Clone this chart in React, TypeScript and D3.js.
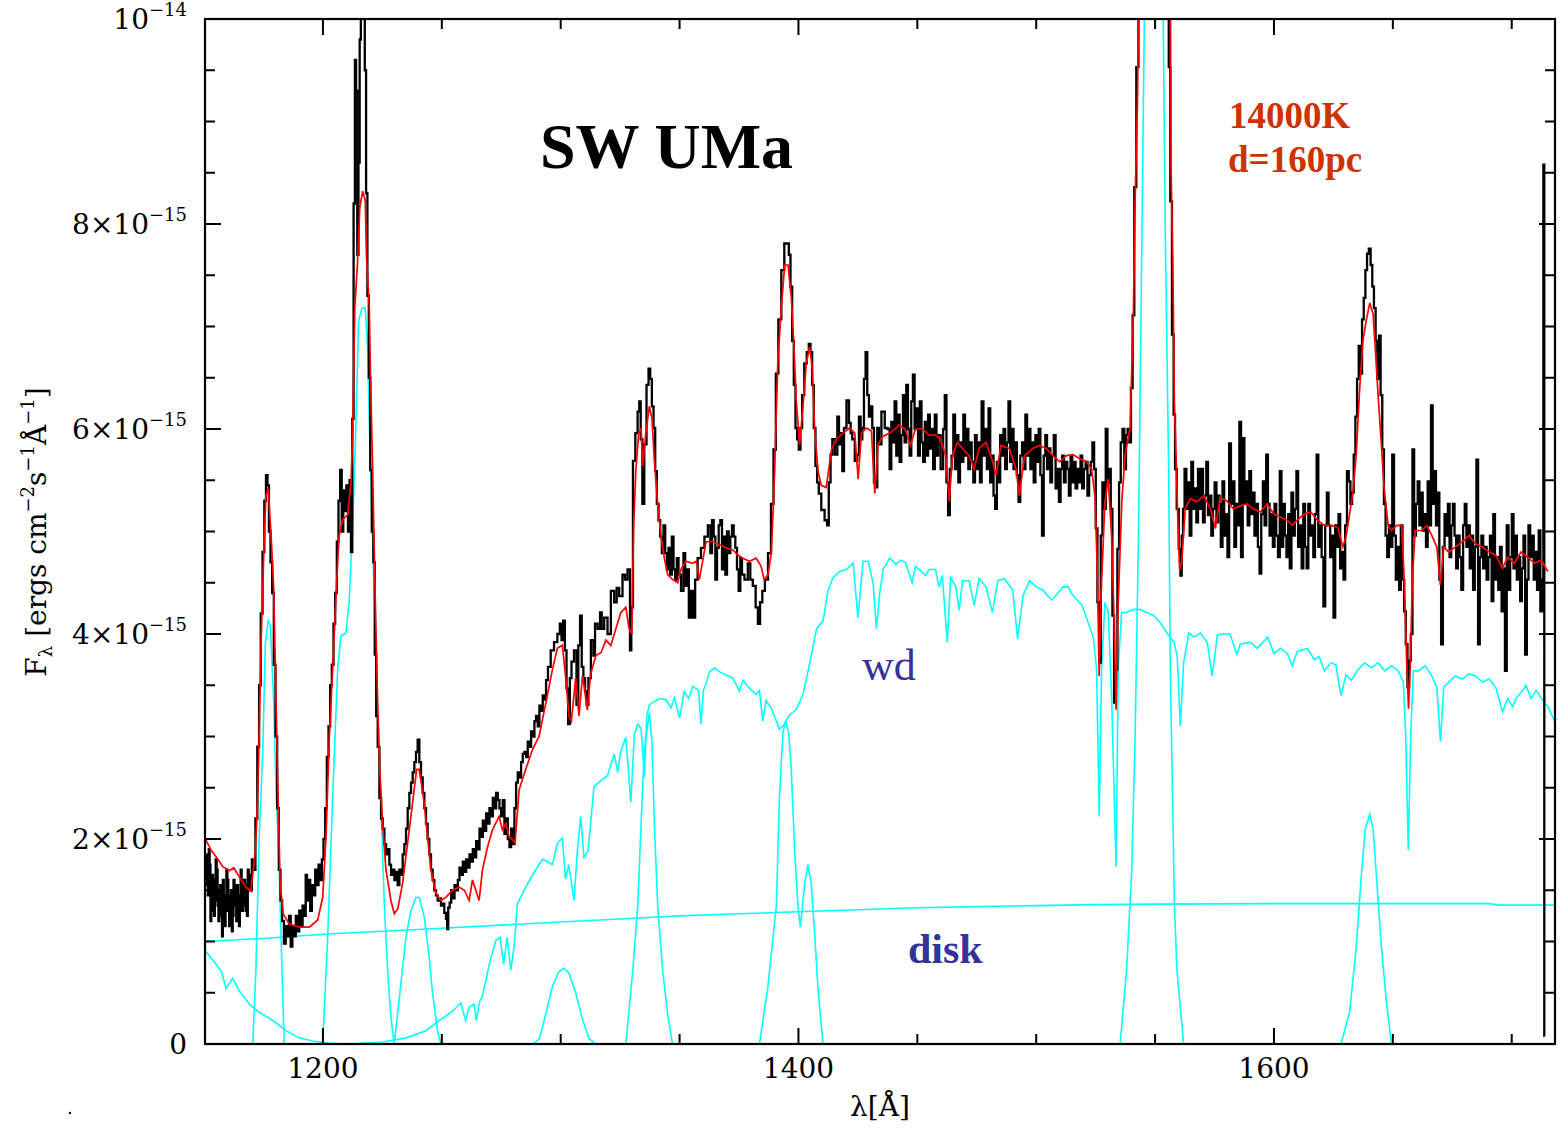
import React from 'react';
import * as d3 from 'd3';

const W = 1562;
const H = 1128;
const FRAME = { left: 205, right: 1555, top: 19, bottom: 1044 };
const LAMBDA_DOMAIN: [number, number] = [1150.4, 1718.2];
const FLUX_DOMAIN: [number, number] = [0, 10]; // units of 1e-15

// observed spectrum (black)  [lambda (A), flux (1e-15 erg/cm2/s/A)]
const observed: [number, number][] = [
  [1151.0,1.85],[1151.4,1.55],[1151.8,1.45],[1152.2,1.9],[1152.5,1.75],[1152.9,1.2],[1153.2,1.3],[1153.6,1.65],[1154.0,1.6],[1154.4,1.25],[1154.7,1.4],[1155.1,1.8],[1155.5,1.7],[1155.9,1.35],[1156.2,1.2],[1156.6,1.5],
  [1157.0,1.55],[1157.4,1.25],[1157.7,1.05],[1158.1,1.6],[1158.5,1.45],[1158.9,1.15],[1159.2,1.3],[1159.6,1.7],[1160.0,1.6],[1160.4,1.3],[1160.7,1.15],[1161.1,1.45],[1161.5,1.5],[1161.9,1.1],[1162.2,1.25],[1162.6,1.6],
  [1163.0,1.55],[1163.4,1.35],[1163.7,1.2],[1164.1,1.55],[1164.5,1.45],[1164.9,1.15],[1165.2,1.3],[1165.6,1.7],[1166.0,1.6],[1166.4,1.3],[1166.7,1.35],[1167.1,1.6],[1167.5,1.55],[1167.9,1.3],[1168.2,1.25],[1168.6,1.7],
  [1169.0,1.65],[1169.7,1.5],[1170.5,1.8],[1171.2,1.7],[1172.0,2.2],[1172.8,2.9],[1173.5,3.5],[1174.2,4.2],
  [1175.0,4.8],[1175.7,5.3],[1176.4,5.55],[1177.0,5.45],[1177.6,5.0],[1178.3,4.7],[1179.0,4.4],[1179.7,3.7],
  [1180.4,3.0],[1181.1,2.3],[1181.8,1.7],[1182.5,1.4],[1183.2,1.2],[1184.0,0.98],[1184.7,1.15],[1185.4,1.05],
  [1186.1,1.25],[1186.8,0.95],[1187.5,1.15],[1188.2,1.05],[1189.0,1.25],[1189.7,1.1],[1190.4,1.3],[1191.1,1.15],
  [1191.8,1.35],[1192.5,1.25],[1193.0,1.65],[1193.6,1.4],[1194.3,1.6],[1195.0,1.3],[1195.7,1.55],[1196.4,1.45],
  [1197.1,1.7],[1197.8,1.55],[1198.5,1.75],[1199.2,1.6],[1199.9,1.8],[1200.6,2.0],[1201.3,2.3],[1202.0,2.8],
  [1202.7,3.1],[1203.4,3.5],[1204.1,3.7],[1204.8,4.1],[1205.5,4.4],[1206.2,4.9],[1206.9,5.3],[1207.6,5.6],
  [1208.2,5.0],[1208.9,5.4],[1209.5,5.2],[1210.2,5.45],[1210.9,5.0],[1211.5,5.5],[1212.1,4.8],[1212.6,6.1],
  [1213.2,8.2],[1213.7,9.6],[1214.2,9.3],[1214.7,7.7],[1215.2,8.6],[1215.7,9.8],[1216.2,10.6],[1216.8,10.6],
  [1217.3,10.6],[1217.9,9.5],[1218.4,8.3],[1219.0,7.3],[1219.6,6.5],[1220.2,5.6],[1220.9,5.0],[1221.5,4.7],
  [1222.1,3.8],[1222.7,3.2],[1223.4,2.9],[1224.1,2.4],[1224.8,2.2],[1225.5,2.1],[1226.2,1.95],[1226.9,1.85],
  [1227.6,1.9],[1228.3,1.75],[1229.0,1.65],[1229.7,1.7],[1230.4,1.6],[1231.1,1.68],[1231.8,1.55],[1232.5,1.7],
  [1233.2,1.65],[1233.9,1.85],[1234.6,1.95],[1235.3,2.1],[1236.0,2.3],[1236.7,2.45],[1237.4,2.55],[1238.1,2.65],
  [1238.8,2.75],[1239.5,2.85],[1240.2,2.97],[1240.9,2.75],[1241.6,2.6],[1242.3,2.45],[1243.0,2.3],[1243.7,2.15],
  [1244.4,2.0],[1245.1,1.85],[1245.8,1.7],[1246.5,1.6],[1247.2,1.5],[1247.9,1.45],[1248.6,1.4],[1249.3,1.42],
  [1250.0,1.35],[1250.7,1.37],[1251.4,1.28],[1252.1,1.22],[1252.4,1.12],[1253.0,1.33],[1253.6,1.38],[1254.3,1.5],
  [1255.0,1.42],[1255.7,1.55],[1256.4,1.5],[1257.1,1.6],[1257.8,1.72],[1258.5,1.65],[1259.2,1.78],[1259.9,1.68],
  [1260.6,1.8],[1261.3,1.72],[1262.0,1.85],[1262.7,1.78],[1263.4,1.9],[1264.1,1.82],[1264.8,1.98],[1265.5,1.9],
  [1266.2,2.1],[1266.9,2.02],[1267.6,2.18],[1268.3,2.08],[1269.0,2.25],[1269.7,2.15],[1270.4,2.3],[1271.1,2.22],
  [1271.8,2.4],[1272.5,2.3],[1273.2,2.45],[1273.9,2.38],[1274.6,2.3],[1275.3,2.22],[1276.0,2.38],[1276.7,2.05],
  [1277.4,2.2],[1278.1,2.0],[1278.8,1.92],[1279.5,2.1],[1280.2,1.95],[1280.9,2.3],[1281.6,2.55],[1282.3,2.65],
  [1283.0,2.6],[1283.7,2.75],[1284.4,2.83],[1285.1,2.85],[1285.8,2.8],[1286.5,2.95],[1287.2,2.9],[1287.9,3.05],
  [1288.6,3.0],[1289.3,3.15],[1290.0,3.2],[1290.7,3.1],[1291.4,3.3],[1292.1,3.25],[1292.8,3.4],[1293.5,3.36],
  [1294.2,3.55],[1295.1,3.68],[1296.5,3.84],[1297.9,3.92],[1299.3,4.0],[1300.0,4.1],[1300.7,3.94],[1301.4,4.13],
  [1302.1,3.84],[1302.8,3.47],[1303.5,3.12],[1304.2,3.57],[1304.9,3.73],[1306.3,3.84],[1307.0,3.31],[1307.8,3.89],
  [1308.5,4.18],[1309.2,3.68],[1309.9,3.57],[1310.6,3.44],[1311.3,3.31],[1312.0,3.57],[1313.4,3.94],[1314.1,3.79],
  [1314.8,4.1],[1316.2,4.05],[1316.9,4.21],[1317.6,4.05],[1319.0,4.16],[1320.4,4.0],[1321.8,4.42],[1323.2,4.31],
  [1323.9,4.45],[1325.3,4.37],[1326.7,4.58],[1327.4,4.53],[1328.8,4.63],[1329.5,3.84],[1329.9,4.26],[1330.9,5.69],
  [1331.9,5.96],[1332.8,6.17],[1333.3,6.27],[1334.0,5.9],[1334.7,5.27],[1335.6,5.85],[1336.6,6.43],[1337.3,6.59],
  [1338.0,6.49],[1338.7,6.22],[1339.4,6.01],[1340.1,5.59],[1340.8,5.27],[1341.5,5.11],[1342.2,4.95],[1342.9,4.79],
  [1343.6,5.06],[1344.3,4.79],[1345.0,4.63],[1345.7,4.84],[1346.4,4.58],[1347.1,4.95],[1347.8,4.63],[1348.5,4.53],
  [1349.2,4.74],[1349.9,4.58],[1351.3,4.42],[1352.0,4.79],[1352.7,4.47],[1353.4,4.63],[1354.4,4.16],[1355.3,4.42],
  [1356.2,4.16],[1356.9,4.53],[1358.3,4.74],[1359.7,4.84],[1361.2,4.95],[1362.6,5.06],[1363.3,4.79],[1364.0,5.11],
  [1364.7,4.95],[1365.4,4.53],[1366.1,4.84],[1366.8,5.06],[1367.5,5.11],[1368.2,4.63],[1368.9,4.95],[1369.6,4.58],
  [1370.3,5.0],[1371.0,4.79],[1371.7,4.95],[1372.4,5.06],[1373.1,4.95],[1373.8,4.84],[1374.5,4.63],[1375.2,4.42],
  [1375.9,4.74],[1376.6,4.58],[1378.0,4.53],[1379.4,4.69],[1380.1,4.53],[1381.5,4.47],[1382.5,4.26],[1383.4,4.1],
  [1384.3,4.31],[1385.3,4.42],[1386.5,4.53],[1387.9,4.79],[1389.0,5.27],[1390.0,5.8],[1391.0,6.54],[1392.1,7.07],
  [1393.5,7.55],[1394.6,7.81],[1395.6,7.81],[1396.3,7.7],[1397.0,7.39],[1397.7,6.86],[1398.4,6.43],[1399.1,6.01],
  [1399.8,5.9],[1400.5,5.8],[1401.2,6.01],[1401.9,6.33],[1403.0,6.64],[1404.0,6.75],[1404.7,6.83],[1405.4,6.75],
  [1406.1,6.43],[1406.8,6.01],[1407.5,5.64],[1408.2,5.48],[1408.9,5.37],[1410.3,5.21],[1411.7,5.11],[1412.4,5.06],
  [1413.1,5.48],[1413.9,5.75],[1414.6,5.9],[1416.0,5.75],[1416.7,6.12],[1417.4,5.85],[1418.1,5.96],[1418.8,5.59],
  [1419.5,6.01],[1420.9,6.28],[1421.6,6.06],[1422.3,5.96],[1423.0,5.9],[1424.4,5.69],[1425.1,5.75],[1425.8,6.12],
  [1426.5,5.9],[1427.2,6.01],[1427.9,6.49],[1428.6,6.75],[1429.3,6.33],[1430.0,6.12],[1430.7,6.22],[1431.4,6.01],
  [1432.1,5.48],[1432.8,5.43],[1433.5,6.01],[1434.2,5.85],[1435.6,6.17],[1437.0,6.01],[1438.0,6.0],[1438.7,5.61],
  [1439.4,6.07],[1440.1,5.87],[1440.8,6.27],[1441.5,5.74],[1442.2,6.14],[1442.9,5.68],[1443.6,5.94],[1444.3,6.33],
  [1445.0,5.87],[1445.7,6.43],[1446.4,6.0],[1447.1,5.74],[1447.8,6.27],[1448.5,6.53],[1449.2,6.0],[1449.9,6.2],
  [1450.7,5.74],[1451.4,6.27],[1452.1,5.87],[1452.8,5.68],[1453.5,6.07],[1454.2,5.74],[1454.9,6.14],[1455.6,5.81],
  [1456.3,6.0],[1457.0,5.61],[1457.7,6.14],[1458.4,5.74],[1459.1,5.94],[1460.5,5.61],[1461.2,6.0],[1461.9,6.33],
  [1462.6,5.48],[1463.3,5.16],[1464.0,5.61],[1464.8,5.74],[1465.5,6.14],[1466.2,5.61],[1466.9,5.94],[1467.6,5.48],
  [1468.3,5.87],[1469.0,5.68],[1469.7,6.14],[1470.4,5.74],[1471.1,6.0],[1471.8,5.61],[1472.5,5.87],[1473.2,5.68],
  [1473.9,5.48],[1474.6,5.94],[1475.3,5.61],[1476.0,5.87],[1476.7,5.48],[1477.4,6.27],[1478.2,5.74],[1478.9,6.0],
  [1479.6,5.61],[1480.3,6.2],[1481.0,5.48],[1481.7,5.74],[1482.4,5.35],[1483.1,5.22],[1483.8,5.68],[1484.5,5.48],
  [1485.2,5.94],[1485.9,5.74],[1486.6,6.0],[1487.3,5.61],[1488.0,5.87],[1488.7,6.27],[1489.4,5.68],[1490.1,6.0],
  [1490.8,5.61],[1491.5,5.87],[1492.2,5.55],[1492.9,5.29],[1493.7,5.74],[1494.4,5.87],[1495.1,5.61],[1495.8,6.14],
  [1496.5,5.74],[1497.2,6.0],[1497.9,5.61],[1498.6,5.87],[1499.3,5.48],[1500.0,5.94],[1500.7,5.68],[1501.4,6.0],
  [1502.1,5.55],[1502.8,4.96],[1503.5,5.74],[1504.2,5.94],[1504.9,5.61],[1505.6,5.81],[1506.3,5.48],[1507.0,5.74],
  [1507.8,5.94],[1508.5,5.42],[1509.2,5.61],[1509.9,5.29],[1510.6,5.61],[1511.3,5.74],[1512.0,5.48],[1512.7,5.68],
  [1513.4,5.61],[1514.1,5.35],[1514.8,5.74],[1515.5,5.48],[1516.2,5.68],[1516.9,5.42],[1517.6,5.61],[1518.3,5.48],
  [1519.0,5.74],[1519.7,5.42],[1520.4,5.61],[1521.2,5.68],[1521.9,5.35],[1522.6,5.55],[1523.3,5.68],[1524.0,5.87],
  [1524.7,5.61],[1525.4,5.03],[1526.1,4.31],[1526.8,3.72],[1527.5,4.96],[1528.2,5.48],[1528.9,5.22],[1529.6,6.0],
  [1530.3,5.48],[1531.0,5.61],[1531.7,5.22],[1532.4,4.18],[1533.1,3.33],[1533.8,3.65],[1534.5,4.83],[1535.2,5.48],
  [1535.9,5.87],[1536.7,6.0],[1537.4,5.61],[1538.1,5.94],[1538.8,6.0],[1539.5,5.87],[1540.2,6.4],[1540.9,7.11],
  [1541.6,8.36],[1542.6,9.53],[1543.4,10.6],[1546.0,12.0],[1550.0,12.0],[1554.0,12.0],[1555.4,10.6],[1556.1,9.53],
  [1556.7,8.22],[1557.5,6.92],[1558.1,6.14],[1558.7,5.61],[1559.5,5.22],[1560.4,4.83],[1560.9,4.57],[1561.5,4.96],
  [1562.0,5.22],[1562.8,5.61],[1563.5,5.22],[1564.2,5.48],[1564.9,4.96],[1565.6,5.68],[1566.3,5.22],[1567.0,5.42],
  [1567.7,5.09],[1568.4,5.61],[1569.1,5.22],[1569.8,5.61],[1570.5,5.09],[1571.2,5.35],[1571.9,5.68],[1572.6,5.16],
  [1573.3,5.35],[1574.0,4.96],[1574.7,5.22],[1575.4,5.48],[1576.2,5.09],[1576.9,5.35],[1577.3,5.27],[1578.0,4.85],
  [1578.7,5.49],[1579.4,4.96],[1580.1,5.17],[1580.8,4.75],[1581.5,5.86],[1582.3,5.27],[1583.0,5.49],[1583.7,4.85],
  [1584.4,5.27],[1585.1,5.06],[1585.8,6.07],[1586.5,4.75],[1587.2,5.91],[1587.9,5.27],[1588.6,5.49],[1589.3,5.06],
  [1590.0,5.59],[1590.7,5.17],[1591.4,5.38],[1592.2,4.96],[1592.9,5.27],[1593.6,4.85],[1594.3,4.59],[1595.0,5.17],
  [1595.7,5.49],[1596.4,5.06],[1597.1,5.75],[1597.8,5.27],[1598.5,4.96],[1599.2,5.17],[1599.9,4.85],[1600.6,5.27],
  [1601.3,4.96],[1602.1,4.75],[1602.8,5.59],[1603.5,4.85],[1604.2,5.27],[1604.9,4.96],[1605.6,4.75],[1606.3,5.17],
  [1607.0,4.64],[1607.7,5.38],[1608.4,4.96],[1609.1,5.22],[1609.8,5.59],[1610.5,4.85],[1611.3,5.06],[1612.0,4.64],
  [1612.7,5.27],[1613.4,4.85],[1614.1,4.64],[1614.8,5.27],[1615.5,4.96],[1616.2,5.06],[1616.9,4.75],[1617.6,5.17],
  [1618.3,5.75],[1619.0,4.85],[1619.7,5.06],[1620.4,4.75],[1621.2,4.27],[1621.9,5.06],[1622.6,5.38],[1623.3,5.06],
  [1624.0,4.75],[1624.7,4.96],[1625.4,4.16],[1626.1,5.06],[1626.8,4.85],[1627.5,5.17],[1628.2,4.64],[1628.9,4.8],
  [1629.6,4.53],[1630.3,5.06],[1631.1,5.59],[1631.8,5.49],[1632.5,5.27],[1633.2,5.38],[1633.9,5.75],[1634.6,6.12],
  [1635.3,6.49],[1636.0,6.81],[1636.7,6.54],[1637.4,7.07],[1638.1,7.28],[1638.8,7.55],[1639.5,7.71],[1640.3,7.76],
  [1641.0,7.6],[1641.7,7.39],[1642.4,7.18],[1643.1,6.86],[1643.8,6.49],[1644.5,6.91],[1645.2,6.33],[1645.9,5.8],
  [1646.6,5.27],[1647.3,4.96],[1648.0,4.75],[1648.7,5.06],[1649.4,4.85],[1650.1,5.75],[1650.9,4.96],[1651.6,4.53],
  [1652.3,4.85],[1653.0,4.43],[1653.7,5.06],[1654.4,4.53],[1655.1,4.22],[1655.8,3.9],[1656.5,3.48],[1657.2,3.74],
  [1657.9,4.0],[1658.6,5.8],[1659.3,4.96],[1660.1,5.27],[1660.8,5.49],[1661.5,5.06],[1662.2,5.38],[1662.9,5.01],
  [1663.6,5.17],[1664.3,4.85],[1665.0,5.49],[1665.7,5.06],[1666.4,6.23],[1667.1,5.27],[1667.8,5.59],[1668.5,5.06],
  [1669.2,5.38],[1669.9,4.53],[1670.7,3.9],[1671.4,4.85],[1672.1,5.17],[1672.8,4.96],[1673.5,5.27],[1674.2,4.75],
  [1674.9,5.06],[1675.6,5.27],[1676.3,4.96],[1677.0,4.64],[1677.7,4.96],[1678.4,4.75],[1679.2,4.43],[1679.9,5.06],
  [1680.6,5.27],[1681.3,4.85],[1682.0,5.06],[1682.7,4.64],[1683.4,4.96],[1684.1,4.43],[1684.8,4.85],[1685.5,5.7],
  [1686.2,3.9],[1686.9,4.75],[1687.6,4.96],[1688.4,4.64],[1689.1,4.85],[1689.8,4.53],[1690.5,4.75],[1691.2,4.96],
  [1691.9,4.32],[1692.6,5.17],[1693.3,4.53],[1694.0,4.75],[1694.7,4.43],[1695.4,4.85],[1696.1,4.22],[1696.8,4.64],
  [1697.5,3.64],[1698.3,5.06],[1699.0,4.43],[1699.7,4.75],[1700.4,5.17],[1701.1,4.64],[1701.8,4.96],[1702.5,4.53],
  [1703.2,4.75],[1703.9,4.32],[1704.6,4.64],[1705.3,4.96],[1706.0,3.8],[1706.7,4.53],[1707.4,5.06],[1708.1,4.75],
  [1708.9,4.96],[1709.6,4.53],[1710.3,4.8],[1711.0,4.43],[1711.7,5.01],[1712.4,4.22],[1713.1,4.53],[1713.5,8.58],
  [1713.9,0.08],
];

// best fit model (red)
const model: [number, number][] = [
  [1150.8,1.99],[1153,1.89],[1155,1.83],[1157.9,1.73],[1160.7,1.69],[1162.5,1.72],[1164.8,1.63],[1167.6,1.53],
  [1169.7,1.49],[1171.6,1.89],[1172.6,2.41],[1174.0,3.92],[1174.9,4.63],[1176.0,5.35],[1177.0,5.42],[1178.2,4.96],
  [1179.3,4.44],[1180.0,3.66],[1181.0,2.55],[1182.0,1.57],[1183.3,1.27],[1185.9,1.17],[1190.0,1.14],[1194.3,1.14],
  [1197.8,1.21],[1199.9,1.43],[1201.3,2.02],[1202.7,3.0],[1204.1,3.66],[1205.5,4.37],[1206.8,4.96],[1208.3,5.12],
  [1210.4,5.16],[1211.8,5.48],[1212.5,5.94],[1213.4,7.18],[1214.5,7.6],[1215.5,8.16],[1216.7,8.32],[1217.8,8.23],
  [1218.3,7.7],[1219.5,7.18],[1220.0,6.53],[1220.9,5.61],[1221.8,4.57],[1223.0,3.33],[1223.9,2.68],[1225.1,2.15],
  [1226.5,1.7],[1228.6,1.4],[1230.0,1.27],[1231.5,1.32],[1233.5,1.57],[1235.6,1.96],[1237.7,2.35],[1239.4,2.68],
  [1240.5,2.68],[1241.0,2.6],[1242.6,2.35],[1244.0,2.02],[1245.4,1.7],[1247.5,1.47],[1249.6,1.4],[1251.7,1.43],
  [1254.5,1.5],[1257.3,1.53],[1259.5,1.5],[1261.5,1.4],[1262.9,1.6],[1264.3,1.5],[1265.7,1.4],[1267.1,1.7],
  [1269.2,1.92],[1271.3,2.09],[1274.1,2.22],[1275.5,2.09],[1277.0,2.15],[1278.3,2.02],[1279.5,2.0],[1280.8,1.96],
  [1282.5,2.48],[1285.3,2.68],[1288.1,2.87],[1290.9,3.0],[1293.7,3.32],[1296.5,3.65],[1298.6,3.86],[1300.7,3.89],
  [1302.0,3.6],[1303.5,3.2],[1304.5,3.15],[1306.3,3.57],[1307.7,3.2],[1309.2,3.6],[1311.2,3.26],[1312.6,3.61],
  [1314.8,3.79],[1317.0,3.82],[1319.0,3.94],[1321.1,3.89],[1323.2,4.05],[1325.3,4.21],[1327.4,4.26],[1328.8,4.05],
  [1329.9,4.0],[1330.7,5.06],[1331.6,5.59],[1332.8,5.96],[1333.8,6.01],[1334.5,5.64],[1335.8,5.96],[1337.3,6.22],
  [1338.4,6.1],[1339.4,5.69],[1340.8,5.27],[1342.2,4.95],[1343.6,4.74],[1345.0,4.58],[1347.1,4.53],[1349.2,4.5],
  [1350.6,4.63],[1352.7,4.71],[1355.5,4.69],[1357.0,4.71],[1358.3,4.53],[1359.7,4.71],[1361.1,4.9],[1364.0,4.9],
  [1366.8,4.87],[1369.6,4.84],[1372.4,4.82],[1374.5,4.77],[1376.6,4.74],[1379.4,4.71],[1382.2,4.74],[1384.3,4.66],
  [1385.6,4.53],[1387.2,4.58],[1388.6,4.79],[1390.0,5.59],[1391.3,6.64],[1392.8,7.18],[1394.2,7.6],[1395.6,7.6],
  [1397.0,7.28],[1398.0,6.86],[1399.1,6.27],[1400.5,5.85],[1401.9,6.22],[1403.3,6.64],[1404.7,6.8],[1405.8,6.6],
  [1406.8,6.01],[1408.2,5.59],[1409.6,5.45],[1411.7,5.43],[1413.9,5.8],[1416.0,5.9],[1418.8,5.96],[1421.6,6.01],
  [1423.7,5.96],[1425.1,5.51],[1426.5,5.96],[1428.6,6.01],[1430.7,5.98],[1432.1,5.37],[1433.5,5.85],[1435.6,5.93],
  [1438.4,5.96],[1440.8,6.0],[1442.2,6.04],[1444.9,6.0],[1447.1,5.84],[1449.2,6.0],[1452.1,6.0],[1454.9,5.94],
  [1457.7,5.94],[1459.8,5.9],[1461.9,5.74],[1463.4,5.29],[1464.8,5.74],[1466.9,5.87],[1469.0,5.81],[1471.8,5.74],
  [1473.9,5.61],[1476.0,5.81],[1478.9,5.87],[1481.7,5.68],[1483.1,5.55],[1485.2,5.84],[1488.7,5.81],[1491.5,5.61],
  [1492.9,5.35],[1495.1,5.74],[1498.6,5.81],[1501.4,5.84],[1504.2,5.81],[1507.0,5.74],[1509.9,5.68],[1512.7,5.74],
  [1515.5,5.75],[1518.3,5.71],[1521.2,5.68],[1523.3,5.61],[1524.7,5.35],[1525.7,4.63],[1526.5,3.59],[1527.3,4.4],
  [1528.9,5.29],[1530.3,5.51],[1531.7,4.96],[1532.7,4.2],[1533.6,3.26],[1534.5,4.3],[1536.0,5.29],[1537.4,5.75],
  [1539.5,6.01],[1540.9,7.18],[1541.6,8.23],[1542.6,9.21],[1543.3,10.6],[1546.0,13.0],[1550.0,13.0],[1555.5,12.0],
  [1556.4,10.6],[1556.7,8.55],[1557.5,7.57],[1558.1,6.27],[1558.8,5.75],[1559.5,5.16],[1560.3,4.63],[1561.2,4.7],
  [1562.7,5.22],[1564.8,5.32],[1567.6,5.29],[1570.5,5.35],[1573.3,5.22],[1575.4,5.03],[1577.3,5.33],[1580.1,5.3],
  [1583.0,5.22],[1585.8,5.25],[1588.6,5.27],[1591.4,5.22],[1594.3,5.19],[1597.1,5.27],[1600.0,5.17],[1602.8,5.14],
  [1605.6,5.11],[1607.7,5.06],[1609.8,5.11],[1612.7,5.17],[1615.5,5.19],[1618.3,5.11],[1621.2,5.06],[1624.0,5.06],
  [1626.8,5.04],[1629.0,4.85],[1630.3,4.95],[1631.8,5.17],[1633.2,5.38],[1634.6,5.75],[1636.0,6.38],[1637.4,6.86],
  [1638.9,7.07],[1640.3,7.23],[1641.7,7.12],[1642.7,6.75],[1643.8,6.33],[1645.0,5.91],[1646.3,5.43],[1648.0,5.06],
  [1649.4,5.01],[1651.6,5.06],[1653.7,5.06],[1654.8,4.53],[1655.8,3.74],[1656.6,3.27],[1657.4,3.74],[1658.2,4.53],
  [1659.4,5.01],[1662.2,5.01],[1664.3,5.06],[1666.4,4.96],[1668.5,4.85],[1670.0,4.48],[1671.4,4.85],[1673.5,4.8],
  [1676.3,4.85],[1679.2,4.9],[1682.0,4.96],[1684.8,4.88],[1687.6,4.85],[1690.5,4.8],[1693.3,4.77],[1696.1,4.64],
  [1698.3,4.75],[1701.1,4.69],[1703.9,4.8],[1706.7,4.75],[1709.6,4.69],[1712.4,4.72],[1715.2,4.61],
];

// white dwarf component (cyan)
const whiteDwarf: [number, number][] = [
  [1150.5,0.91],[1155.0,0.78],[1157.5,0.7],[1159.2,0.54],[1162.0,0.64],[1164.8,0.52],[1169.0,0.39],[1173.2,0.31],
  [1178.9,0.23],[1184.5,0.13],[1190.0,0.06],[1195.7,0.03],[1202,0.01],[1210,0.0],[1218,0.01],[1225,0.02],
  [1235,0.06],[1243.3,0.13],[1249,0.23],[1254.5,0.32],[1258,0.4],[1260,0.23],[1261.5,0.36],[1263.6,0.39],
  [1264.5,0.23],[1266,0.42],[1267,0.46],[1270,0.78],[1272.7,1.01],[1274.5,1.04],[1276,0.78],[1277.5,1.04],
  [1279,0.72],[1280.4,0.95],[1281.8,1.37],[1285.3,1.53],[1289.5,1.7],[1292.3,1.8],[1294.5,1.78],[1296.5,1.75],
  [1298.6,1.96],[1300.7,2.01],[1302.0,1.61],[1303.4,1.75],[1305.6,1.4],[1307.0,1.88],[1308.4,2.22],[1309.8,1.82],
  [1311.5,1.88],[1314.0,2.51],[1317.0,2.57],[1319.7,2.62],[1322.5,2.83],[1324.0,2.65],[1325.3,2.86],[1327.4,2.99],
  [1329.5,2.36],[1331.0,3.02],[1332.4,3.12],[1333.8,3.08],[1335.2,2.6],[1336.2,3.2],[1337.3,3.31],[1338.7,3.33],
  [1341.5,3.37],[1344.3,3.36],[1346.4,3.28],[1347.8,3.38],[1350.0,3.18],[1352.0,3.44],[1353.8,3.37],[1355.5,3.49],
  [1358.0,3.45],[1359.0,3.12],[1360.0,3.45],[1361.2,3.52],[1362.6,3.63],[1364.7,3.67],[1366.8,3.63],[1369.6,3.6],
  [1372.4,3.57],[1375.2,3.44],[1376.6,3.55],[1379.4,3.47],[1382.2,3.41],[1383.6,3.45],[1385.0,3.15],[1386.4,3.35],
  [1388.5,3.28],[1390.7,3.15],[1392.0,3.07],[1394.1,3.12],[1396.2,3.21],[1399.0,3.26],[1401.9,3.41],[1404.7,3.71],
  [1407.6,4.05],[1410.4,4.13],[1412.4,4.42],[1414.5,4.55],[1417.4,4.61],[1420.2,4.63],[1423.0,4.69],[1425.0,4.16],
  [1427.2,4.71],[1429.3,4.71],[1431.4,4.5],[1432.8,4.05],[1434.2,4.4],[1435.6,4.63],[1438.4,4.74],[1441.0,4.68],
  [1443.0,4.72],[1445.0,4.7],[1447.8,4.5],[1449.2,4.66],[1450.7,4.63],[1453.5,4.57],[1454.9,4.63],[1457.7,4.63],
  [1459.1,4.46],[1460.5,4.57],[1462.6,3.92],[1464.0,4.55],[1466.2,4.46],[1467.6,4.23],[1469.0,4.52],[1471.8,4.52],
  [1473.9,4.28],[1476.0,4.54],[1478.9,4.46],[1481.6,4.21],[1483.8,4.52],[1486.6,4.54],[1490.1,4.43],[1492.2,3.95],
  [1494.4,4.37],[1497.2,4.52],[1500.0,4.46],[1502.8,4.43],[1504.9,4.37],[1506.6,4.33],[1508.8,4.39],[1511.3,4.46],
  [1513.4,4.46],[1515.0,4.39],[1517.3,4.33],[1519.3,4.28],[1524.0,3.97],[1525.4,3.66],[1526.5,2.22],[1527.5,3.66],
  [1528.9,4.31],[1530.3,4.21],[1531.7,3.4],[1533.6,1.73],[1534.5,3.66],[1535.9,4.21],[1538.0,4.21],[1540.8,4.24],
  [1543.7,4.24],[1546.5,4.21],[1549.4,4.18],[1552.2,4.11],[1555.0,4.01],[1557.9,3.92],[1559.3,3.79],[1560.6,3.1],
  [1562.0,3.72],[1564.2,4.01],[1566.3,3.97],[1569.1,4.01],[1571.9,3.92],[1574.0,3.59],[1576.2,3.99],[1578.7,4.0],
  [1581.5,4.0],[1584.4,3.8],[1585.8,3.9],[1590.0,3.92],[1593.0,3.86],[1597.4,3.97],[1600.0,3.81],[1602.8,3.86],
  [1605.6,3.81],[1607.7,3.69],[1609.8,3.83],[1614.1,3.86],[1617.0,3.75],[1619.0,3.78],[1621.2,3.64],[1624.0,3.72],
  [1626.0,3.7],[1628.2,3.4],[1630.3,3.6],[1632.5,3.55],[1635.3,3.65],[1638.1,3.72],[1641.0,3.67],[1643.8,3.72],
  [1646.6,3.64],[1649.4,3.69],[1652.3,3.64],[1654.4,3.53],[1655.4,3.0],[1656.5,1.89],[1657.5,3.0],[1658.6,3.64],
  [1660.8,3.64],[1663.6,3.69],[1666.4,3.59],[1668.5,3.48],[1670.0,2.95],[1671.4,3.48],[1673.5,3.53],[1676.3,3.59],
  [1679.2,3.56],[1682.0,3.61],[1684.8,3.59],[1687.6,3.53],[1690.5,3.56],[1693.3,3.48],[1696.1,3.24],[1698.3,3.37],
  [1700.4,3.29],[1701.8,3.37],[1704.6,3.45],[1706.0,3.5],[1708.1,3.37],[1710.3,3.45],[1713.1,3.35],[1715.2,3.29],
  [1718.2,3.14],
];

// accretion disk component (cyan)
const disk: [number, number][] = [
  [1150.4,1.0],[1175,1.03],[1200,1.07],[1225,1.1],[1250,1.13],[1275,1.16],[1300,1.19],[1325,1.22],[1350,1.25],
  [1375,1.27],[1400,1.29],[1425,1.31],[1450,1.33],[1475,1.34],[1500,1.35],[1525,1.36],[1550,1.365],[1600,1.37],
  [1650,1.37],[1690,1.37],[1695,1.355],[1718.2,1.355],
];

// emission line component (cyan)
const emissionLines: [number, number][] = [
  [1150.4,0],[1170.5,0],[1171.8,0.72],[1173.2,2.02],[1174.7,2.87],[1175.8,3.92],[1177.0,4.13],[1177.9,4.08],
  [1178.4,3.82],[1179.3,3.33],[1180.3,2.48],[1181.6,1.7],[1182.8,0.72],[1183.7,0],[1199.9,0],[1202.0,1.04],
  [1204.0,2.35],[1206.2,3.66],[1207.6,3.98],[1209.7,4.01],[1211.0,4.31],[1212.5,5.03],[1213.9,6.07],[1215.0,7.05],
  [1216.4,7.18],[1217.8,7.18],[1218.8,6.79],[1219.5,6.07],[1220.2,5.48],[1221.6,4.37],[1223.0,3.33],[1224.4,2.35],
  [1225.8,1.37],[1227.2,0.72],[1228.6,0.26],[1230.0,0],[1232.8,0.59],[1234.9,1.04],[1237.0,1.3],[1239.1,1.43],
  [1240.5,1.43],[1242.6,1.24],[1244.4,0.91],[1246.0,0.52],[1248.2,0.13],[1249.6,0],[1288.5,0],[1291,0.05],
  [1293.7,0.29],[1296.5,0.56],[1299.3,0.71],[1301.4,0.74],[1303.5,0.69],[1306.3,0.5],[1309.2,0.24],[1312,0.05],
  [1314.8,0],[1327.4,0],[1330.3,0.71],[1332.4,1.35],[1333.8,2.14],[1335.2,2.88],[1337.3,3.23],[1338.4,2.94],
  [1339.4,2.14],[1340.8,1.35],[1342.9,0.71],[1345,0.29],[1347,0],[1383.6,0],[1387.1,0.55],[1390.7,1.35],
  [1392.0,2.41],[1393.5,3.04],[1394.5,3.15],[1395.9,3.04],[1397.0,2.67],[1398.4,1.88],[1399.8,1.35],[1400.8,1.14],
  [1402.6,1.56],[1404.0,1.75],[1405.4,1.56],[1406.8,1.08],[1408.2,0.55],[1410.3,0],[1535.3,0],[1538.0,0.72],
  [1540.2,1.7],[1541.6,3.0],[1543.0,4.96],[1544.0,6.92],[1545.1,9.21],[1546.0,11],[1549.5,14],[1553.0,11],
  [1554.3,7.9],[1555.7,5.61],[1556.4,3.66],[1557.4,2.35],[1558.1,1.37],[1559.2,0.72],[1562.0,0],[1628.2,0],
  [1631.8,0.31],[1634.6,0.94],[1636.7,1.63],[1638.4,2.1],[1640.3,2.24],[1641.7,2.1],[1643.1,1.63],[1645.2,0.94],
  [1647.3,0.41],[1649.4,0],[1718.2,0],
];

const xMajorTicks = [1200, 1400, 1600];
const xMinorTicks = [1250, 1300, 1350, 1450, 1500, 1550, 1650, 1700];
const yMajorTicks = [0, 2, 4, 6, 8, 10];
const yMinorTicks = [0.5, 1, 1.5, 2.5, 3, 3.5, 4.5, 5, 5.5, 6.5, 7, 7.5, 8.5, 9, 9.5];
const yTickLabels = [
  { v: 0, mant: '0', exp: '' },
  { v: 2, mant: '2×10', exp: '−15' },
  { v: 4, mant: '4×10', exp: '−15' },
  { v: 6, mant: '6×10', exp: '−15' },
  { v: 8, mant: '8×10', exp: '−15' },
  { v: 10, mant: '10', exp: '−14' },
];

const TICK_FONT = "'DejaVu Serif', serif";
const TITLE_FONT = "'Liberation Serif', 'Times New Roman', serif";

export default function App() {
  const x = d3.scaleLinear().domain(LAMBDA_DOMAIN).range([FRAME.left, FRAME.right]);
  const y = d3.scaleLinear().domain(FLUX_DOMAIN).range([FRAME.bottom, FRAME.top]);
  const lin = d3.line<[number, number]>().x((d) => x(d[0])).y((d) => y(d[1]));
  const step = d3
    .line<[number, number]>()
    .x((d) => x(d[0]))
    .y((d) => y(d[1]))
    .curve(d3.curveStep);

  const majorLen = 16;
  const minorLen = 10;

  return (
    <svg
      width={W}
      height={H}
      viewBox={`0 0 ${W} ${H}`}
      style={{ position: 'absolute', left: 0, top: 0, background: '#fff' }}
    >
      <defs>
        <clipPath id="plotClip">
          <rect x={FRAME.left} y={FRAME.top} width={FRAME.right - FRAME.left} height={FRAME.bottom - FRAME.top} />
        </clipPath>
      </defs>
      <rect x={0} y={0} width={W} height={H} fill="#fff" />

      <g clipPath="url(#plotClip)" fill="none" strokeLinejoin="miter">
        <path d={lin(disk) || ''} stroke="#00ffff" strokeWidth={1.6} />
        <path d={lin(whiteDwarf) || ''} stroke="#00ffff" strokeWidth={1.6} />
        <path d={lin(emissionLines) || ''} stroke="#00ffff" strokeWidth={1.6} />
        <path d={step(observed) || ''} stroke="#000" strokeWidth={2.3} />
        <path d={lin(model) || ''} stroke="#ff0000" strokeWidth={1.7} />
      </g>

      {/* frame */}
      <rect
        x={FRAME.left}
        y={FRAME.top}
        width={FRAME.right - FRAME.left}
        height={FRAME.bottom - FRAME.top}
        fill="none"
        stroke="#000"
        strokeWidth={2.2}
      />

      {/* ticks */}
      <g stroke="#000" strokeWidth={2}>
        {xMajorTicks.map((t) => (
          <g key={'xM' + t}>
            <line x1={x(t)} x2={x(t)} y1={FRAME.bottom} y2={FRAME.bottom - majorLen} />
            <line x1={x(t)} x2={x(t)} y1={FRAME.top} y2={FRAME.top + majorLen} />
          </g>
        ))}
        {xMinorTicks.map((t) => (
          <g key={'xm' + t}>
            <line x1={x(t)} x2={x(t)} y1={FRAME.bottom} y2={FRAME.bottom - minorLen} />
            <line x1={x(t)} x2={x(t)} y1={FRAME.top} y2={FRAME.top + minorLen} />
          </g>
        ))}
        {yMajorTicks.map((t) => (
          <g key={'yM' + t}>
            <line x1={FRAME.left} x2={FRAME.left + majorLen} y1={y(t)} y2={y(t)} />
            <line x1={FRAME.right} x2={FRAME.right - majorLen} y1={y(t)} y2={y(t)} />
          </g>
        ))}
        {yMinorTicks.map((t) => (
          <g key={'ym' + t}>
            <line x1={FRAME.left} x2={FRAME.left + minorLen} y1={y(t)} y2={y(t)} />
            <line x1={FRAME.right} x2={FRAME.right - minorLen} y1={y(t)} y2={y(t)} />
          </g>
        ))}
      </g>

      {/* tick labels */}
      <g fontFamily={TICK_FONT} fill="#000">
        {xMajorTicks.map((t) => (
          <text key={'xl' + t} x={x(t)} y={1078} fontSize={28} textAnchor="middle">
            {t}
          </text>
        ))}
        {yTickLabels.map((d) => (
          <text key={'yl' + d.v} x={187} y={y(d.v) + 10} fontSize={28} textAnchor="end">
            {d.mant}
            {d.exp && (
              <tspan fontSize={18} dy={-13}>
                {d.exp}
              </tspan>
            )}
          </text>
        ))}
      </g>

      {/* axis titles */}
      <text x={880} y={1116} fontFamily={TICK_FONT} fontSize={28} textAnchor="middle">
        λ[Å]
      </text>
      <text
        transform="translate(46,532) rotate(-90)"
        fontFamily={TICK_FONT}
        fontSize={28}
        textAnchor="middle"
      >
        F<tspan fontSize={18} dy={6}>λ</tspan>
        <tspan dy={-6}> [ergs cm</tspan>
        <tspan fontSize={18} dy={-12}>−2</tspan>
        <tspan dy={12}>s</tspan>
        <tspan fontSize={18} dy={-12}>−1</tspan>
        <tspan dy={12}>Å</tspan>
        <tspan fontSize={18} dy={-12}>−1</tspan>
        <tspan dy={12}>]</tspan>
      </text>

      {/* annotations */}
      <text x={540} y={168} fontFamily={TITLE_FONT} fontWeight="bold" fontSize={64} fill="#000">
        SW UMa
      </text>
      <text x={1229} y={128} fontFamily={TITLE_FONT} fontWeight="bold" fontSize={37} fill="#cc3300">
        14000K
      </text>
      <text x={1228} y={172} fontFamily={TITLE_FONT} fontWeight="bold" fontSize={37} fill="#cc3300">
        d=160pc
      </text>
      <text x={862} y={680} fontFamily={TITLE_FONT} fontSize={44} fill="#333399">
        wd
      </text>
      <text x={908} y={963} fontFamily={TITLE_FONT} fontWeight="bold" fontSize={42} fill="#333399">
        disk
      </text>
      <circle cx={70} cy={1113} r={1.2} fill="#000" />
    </svg>
  );
}
